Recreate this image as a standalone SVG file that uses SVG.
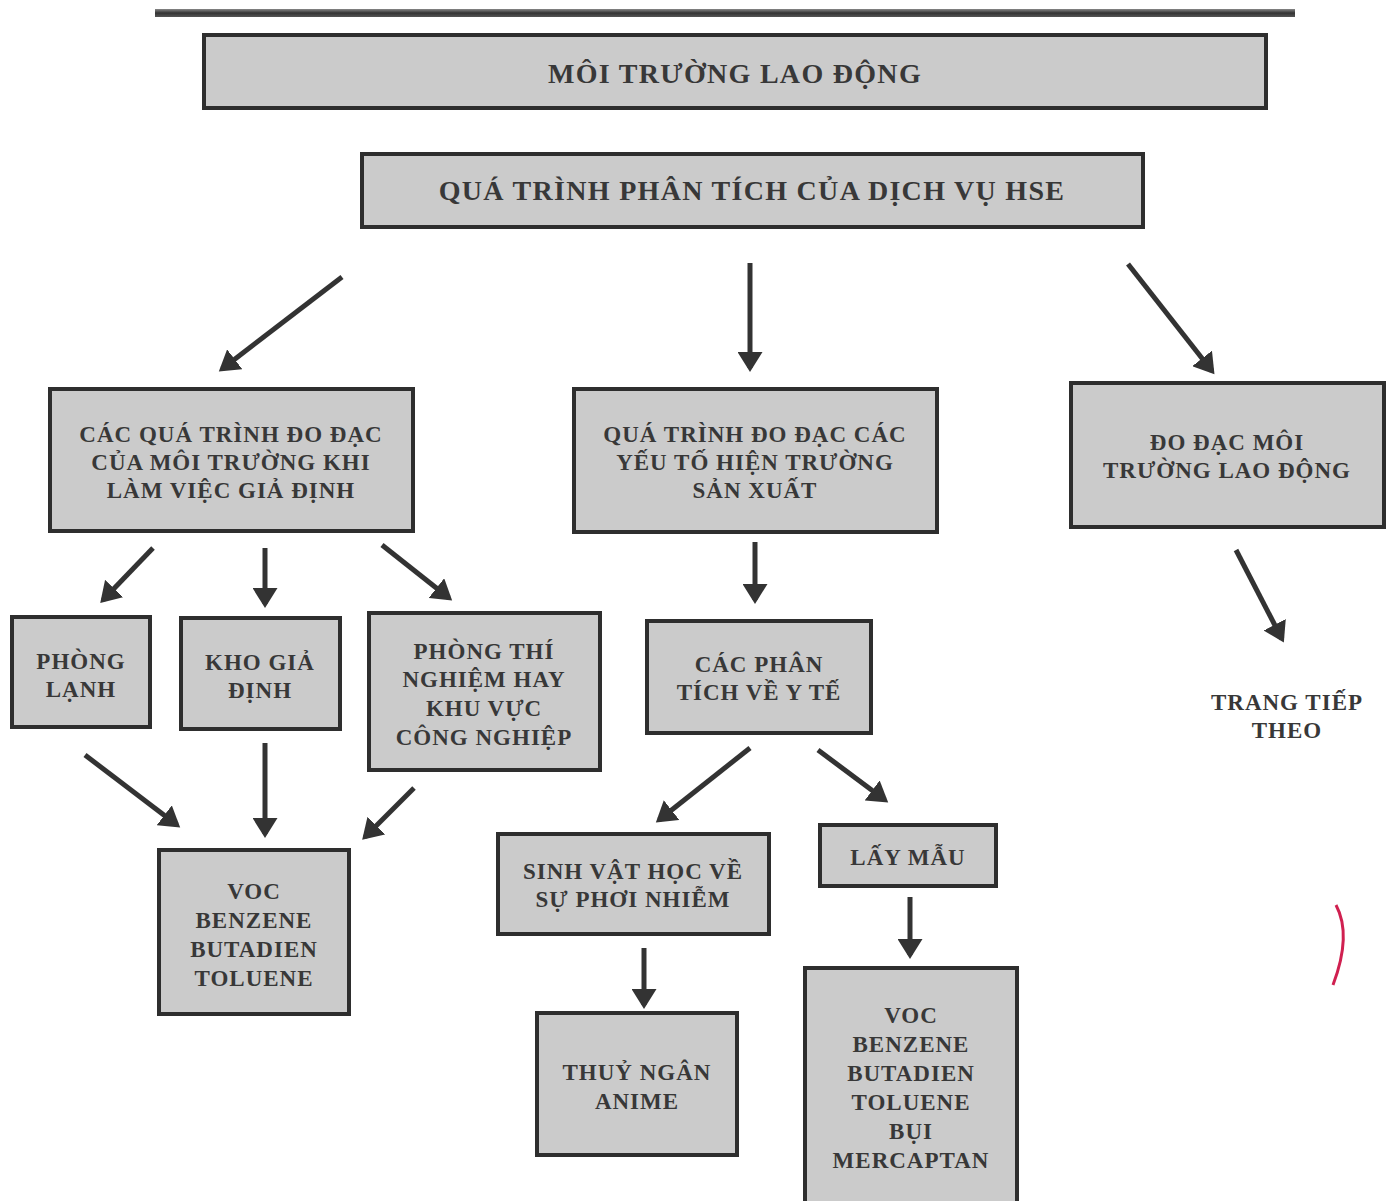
<svg xmlns="http://www.w3.org/2000/svg" width="1389" height="1201" viewBox="0 0 1389 1201">
<style>
.box{fill:#cbcbcb;stroke:#2e2e2e;stroke-width:4}
.t{font-family:"Liberation Serif","Times New Roman",serif;font-weight:bold;font-size:23px;letter-spacing:1px;fill:#383838;text-anchor:middle}
.tl{font-size:28px;letter-spacing:1.3px}
.c{stroke:#333;stroke-width:5;fill:none;marker-end:url(#ah)}
</style>
<defs>
<marker id="ah" markerWidth="5" markerHeight="5" refX="3.2" refY="2.5" orient="auto" markerUnits="strokeWidth">
<path d="M0,0 L4,2.5 L0,5 Z" fill="#333"/>
</marker>
<linearGradient id="rule" x1="0" y1="0" x2="0" y2="1">
<stop offset="0" stop-color="#888"/><stop offset="0.5" stop-color="#333"/><stop offset="1" stop-color="#555"/>
</linearGradient>
</defs>
<rect width="1389" height="1201" fill="#fff"/>
<rect x="155" y="9" width="1140" height="8" fill="url(#rule)"/>
<path d="M1336,905 Q1352,935 1333,985" stroke="#d02050" stroke-width="3" fill="none"/>

<g id="n1"><rect class="box" x="204" y="35" width="1062" height="73"/><text class="t tl" x="735" y="83">MÔI TRƯỜNG LAO ĐỘNG</text></g>
<g id="n2"><rect class="box" x="362" y="154" width="781" height="73"/><text class="t tl" x="752" y="200">QUÁ TRÌNH PHÂN TÍCH CỦA DỊCH VỤ HSE</text></g>
<g id="nA"><rect class="box" x="50" y="389" width="363" height="142"/><text class="t" x="231" y="442">CÁC QUÁ TRÌNH ĐO ĐẠC</text><text class="t" x="231" y="470">CỦA MÔI TRƯỜNG KHI</text><text class="t" x="231" y="498">LÀM VIỆC GIẢ ĐỊNH</text></g>
<g id="nB"><rect class="box" x="574" y="389" width="363" height="143"/><text class="t" x="755" y="442">QUÁ TRÌNH ĐO ĐẠC CÁC</text><text class="t" x="755" y="470">YẾU TỐ HIỆN TRƯỜNG</text><text class="t" x="755" y="498">SẢN XUẤT</text></g>
<g id="nC"><rect class="box" x="1071" y="383" width="313" height="144"/><text class="t" x="1227" y="450">ĐO ĐẠC MÔI</text><text class="t" x="1227" y="478">TRƯỜNG LAO ĐỘNG</text></g>
<g id="nD"><rect class="box" x="12" y="617" width="138" height="110"/><text class="t" x="81" y="669">PHÒNG</text><text class="t" x="81" y="697">LẠNH</text></g>
<g id="nE"><rect class="box" x="181" y="618" width="159" height="111"/><text class="t" x="260" y="670">KHO GIẢ</text><text class="t" x="260" y="698">ĐỊNH</text></g>
<g id="nF"><rect class="box" x="369" y="613" width="231" height="157"/><text class="t" x="484" y="659">PHÒNG THÍ</text><text class="t" x="484" y="687">NGHIỆM HAY</text><text class="t" x="484" y="716">KHU VỰC</text><text class="t" x="484" y="745">CÔNG NGHIỆP</text></g>
<g id="nG"><rect class="box" x="159" y="850" width="190" height="164"/><text class="t" x="254" y="899">VOC</text><text class="t" x="254" y="928">BENZENE</text><text class="t" x="254" y="957">BUTADIEN</text><text class="t" x="254" y="986">TOLUENE</text></g>
<g id="nH"><rect class="box" x="647" y="621" width="224" height="112"/><text class="t" x="759" y="672">CÁC PHÂN</text><text class="t" x="759" y="700">TÍCH VỀ Y TẾ</text></g>
<g id="nI"><rect class="box" x="498" y="834" width="271" height="100"/><text class="t" x="633" y="879">SINH VẬT HỌC VỀ</text><text class="t" x="633" y="907">SỰ PHƠI NHIỄM</text></g>
<g id="nJ"><rect class="box" x="820" y="825" width="176" height="61"/><text class="t" x="908" y="865">LẤY MẪU</text></g>
<g id="nK"><rect class="box" x="537" y="1013" width="200" height="142"/><text class="t" x="637" y="1080">THUỶ NGÂN</text><text class="t" x="637" y="1109">ANIME</text></g>
<g id="nL"><rect class="box" x="805" y="968" width="212" height="240"/><text class="t" x="911" y="1023">VOC</text><text class="t" x="911" y="1052">BENZENE</text><text class="t" x="911" y="1081">BUTADIEN</text><text class="t" x="911" y="1110">TOLUENE</text><text class="t" x="911" y="1139">BỤI</text><text class="t" x="911" y="1168">MERCAPTAN</text></g>
<g id="nM"><text class="t" x="1287" y="710">TRANG TIẾP</text><text class="t" x="1287" y="738">THEO</text></g>

<g id="connectors">
<line class="c" x1="342" y1="277" x2="222" y2="369"/>
<line class="c" x1="750" y1="263" x2="750" y2="368"/>
<line class="c" x1="1128" y1="264" x2="1212" y2="371"/>
<line class="c" x1="153" y1="548" x2="103" y2="600"/>
<line class="c" x1="265" y1="548" x2="265" y2="604"/>
<line class="c" x1="382" y1="545" x2="449" y2="598"/>
<line class="c" x1="85" y1="755" x2="177" y2="825"/>
<line class="c" x1="265" y1="743" x2="265" y2="834"/>
<line class="c" x1="414" y1="788" x2="365" y2="837"/>
<line class="c" x1="755" y1="542" x2="755" y2="600"/>
<line class="c" x1="750" y1="748" x2="659" y2="820"/>
<line class="c" x1="818" y1="750" x2="885" y2="800"/>
<line class="c" x1="644" y1="948" x2="644" y2="1005"/>
<line class="c" x1="910" y1="897" x2="910" y2="955"/>
<line class="c" x1="1236" y1="550" x2="1282" y2="639"/>
</g>
</svg>
